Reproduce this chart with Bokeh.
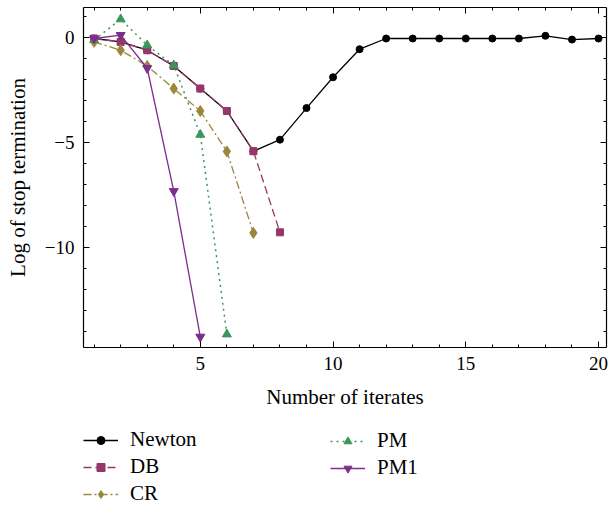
from bokeh.plotting import figure
from bokeh.layouts import column
from bokeh.models import (LinearAxis, SingleIntervalTicker, Legend, LegendItem,
                          Range1d, CustomLabelingPolicy)
from bokeh.embed import file_html
from bokeh.resources import INLINE

# ---- data ----
newton_x = list(range(1, 21))
newton_y = [-0.03, -0.19, -0.59, -1.34, -2.42, -3.49, -5.41, -4.86, -3.35, -1.88,
            -0.54, -0.03, -0.03, -0.03, -0.03, -0.03, -0.03, 0.10, -0.08, -0.03]
db_x = list(range(1, 9))
db_y = [-0.03, -0.19, -0.59, -1.34, -2.42, -3.49, -5.41, -9.28]
cr_x = list(range(1, 8))
cr_y = [-0.19, -0.59, -1.34, -2.42, -3.49, -5.42, -9.31]
pm_x = list(range(1, 7))
pm_y = [-0.10, 0.89, -0.35, -1.31, -4.62, -14.15]
pm1_x = list(range(1, 6))
pm1_y = [-0.03, 0.13, -1.45, -7.32, -14.27]

series_names = ["Newton", "DB", "CR", "PM", "PM1"]
x_label = "Number of iterates"
y_label = "Log of stop termination"

FONT = "Liberation Serif"

p = figure(width=611, height=420, output_backend="svg", toolbar_location=None,
           x_range=Range1d(0.6, 20.3), y_range=Range1d(-14.78, 1.45),
           x_axis_type=None, y_axis_type=None,
           min_border_left=83, min_border_right=0, min_border_top=7,
           min_border_bottom=73)
p.grid.visible = False
p.outline_line_color = None
p.background_fill_color = "white"

def make_axis(with_labels, label=None):
    ax = LinearAxis(ticker=SingleIntervalTicker(interval=5, num_minor_ticks=5))
    ax.major_tick_in = 6
    ax.major_tick_out = 0
    ax.minor_tick_in = 3
    ax.minor_tick_out = 0
    ax.axis_line_color = "black"
    ax.axis_line_width = 1.2
    ax.major_tick_line_color = "black"
    ax.minor_tick_line_color = "black"
    ax.major_label_text_font = FONT
    ax.major_label_text_color = "black"
    if with_labels:
        ax.major_label_text_font_size = "19px"
        ax.major_label_standoff = 9
        ax.axis_label = label
        ax.axis_label_text_font = FONT
        ax.axis_label_text_font_size = "21px"
        ax.axis_label_text_font_style = "normal"
        ax.axis_label_text_color = "black"
        ax.axis_label_standoff = 12
    else:
        ax.major_label_text_font_size = "1px"
        ax.major_label_standoff = 0
        ax.axis_label_standoff = 0
        ax.major_label_policy = CustomLabelingPolicy(code="""
            for (const i of Array.from(indices)) indices.unset(i)
            return indices
        """)
    return ax

p.add_layout(make_axis(True, x_label), "below")
p.add_layout(make_axis(True, y_label), "left")
p.add_layout(make_axis(False), "above")
p.add_layout(make_axis(False), "right")

# legend strip below the plot (its renderers lie outside its visible ranges)
q = figure(width=611, height=87, output_backend="svg", toolbar_location=None,
           x_range=Range1d(100, 101), y_range=Range1d(100, 101),
           x_axis_type=None, y_axis_type=None,
           min_border_left=0, min_border_right=0, min_border_top=0,
           min_border_bottom=0)
q.grid.visible = False
q.outline_line_color = None

LW = 1.3
styles = [
    dict(color="black", dash="solid", lw=LW, marker="circle", size=7),
    dict(color="#963769", dash="8 4", lw=LW, marker="square", size=7),
    dict(color="#9b873c", dash="8 3 2 3", lw=LW, marker="diamond", size=11),
    dict(color="#3c965a", dash="2 4", lw=1.5, marker="triangle", size=9),
    dict(color="#7d2d8c", dash="solid", lw=LW, marker="inverted_triangle", size=9),
]
series = [(newton_x, newton_y), (db_x, db_y), (cr_x, cr_y), (pm_x, pm_y),
          (pm1_x, pm1_y)]

items = []
for name, (xs, ys), st in zip(series_names, series, styles):
    p.line(xs, ys, line_color=st["color"], line_width=st["lw"],
           line_dash=st["dash"])
    p.scatter(xs, ys, marker=st["marker"], size=st["size"], color=st["color"])
    rl = q.line(xs, ys, line_color=st["color"], line_width=st["lw"],
                line_dash=st["dash"])
    rm = q.scatter(xs, ys, marker=st["marker"], size=st["size"],
                   color=st["color"])
    items.append(LegendItem(label=name, renderers=[rl, rm]))

def make_legend(its, loc):
    return Legend(items=its, location=loc, orientation="vertical",
                  glyph_width=35, glyph_height=20, label_height=20,
                  label_standoff=12, spacing=2, padding=0, margin=0,
                  border_line_color=None, background_fill_alpha=0,
                  label_text_font=FONT, label_text_font_size="21px",
                  label_text_line_height=1.0, label_text_color="black")

q.add_layout(make_legend(items[:3], (0, 1)), "center")
q.add_layout(make_legend(items[3:], (247, 27)), "center")

layout = column(p, q, spacing=0)
open("out.html", "w").write(file_html(layout, INLINE))
